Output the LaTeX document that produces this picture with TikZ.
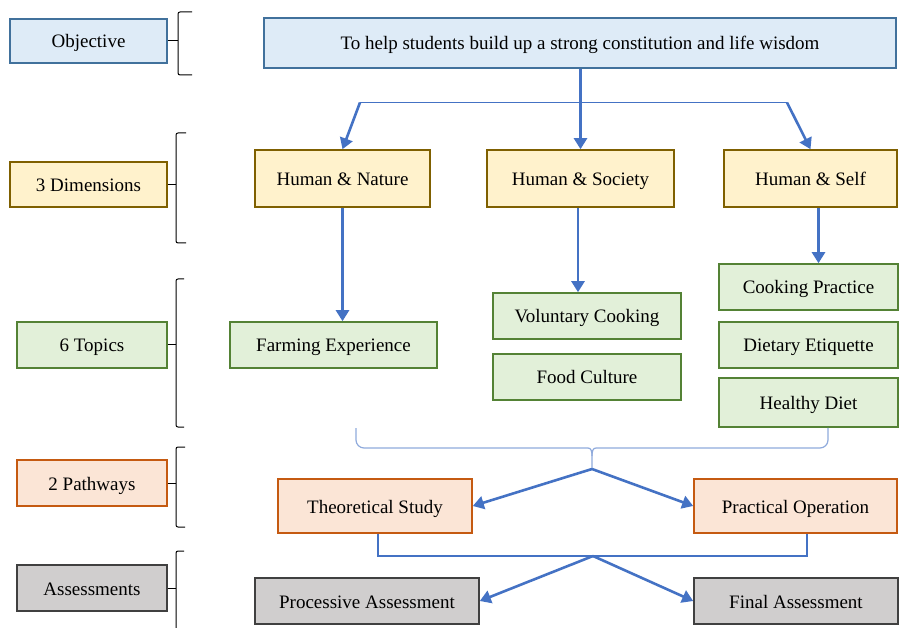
\documentclass[tikz,border=0pt]{standalone}
\usepackage{fontspec}
\setmainfont{Liberation Serif}
\usetikzlibrary{arrows.meta}
\definecolor{bfill}{HTML}{DEEBF7}\definecolor{bdraw}{HTML}{41719C}
\definecolor{yfill}{HTML}{FFF2CC}\definecolor{ydraw}{HTML}{7F6000}
\definecolor{gfill}{HTML}{E2F0D9}\definecolor{gdraw}{HTML}{548235}
\definecolor{ofill}{HTML}{FBE5D6}\definecolor{odraw}{HTML}{C55A11}
\definecolor{kfill}{HTML}{D0CECE}\definecolor{kdraw}{HTML}{404040}
\definecolor{arrc}{HTML}{4472C4}\definecolor{lightarr}{HTML}{8FAADC}
\tikzset{
  box/.style={draw, line width=1.6pt, inner sep=0pt, text height=15pt, text depth=1pt,
    font=\fontsize{19}{22}\selectfont, text=black},
  bluebox/.style={box, fill=bfill, draw=bdraw},
  yelbox/.style={box, fill=yfill, draw=ydraw},
  grnbox/.style={box, fill=gfill, draw=gdraw},
  orgbox/.style={box, fill=ofill, draw=odraw},
  grybox/.style={box, fill=kfill, draw=kdraw},
  arr/.style={draw=arrc, line width=2.6pt, -{Triangle[width=13pt,length=11pt]}},
  thinline/.style={draw=arrc, line width=1.2pt},
  lightline/.style={draw=lightarr, line width=1.2pt},
  brk/.style={draw=black, line width=1pt, rounded corners=2pt},
}
\begin{document}
\begin{tikzpicture}[x=1pt,y=-1pt]
\useasboundingbox (0,0) rectangle (900,628);
% left category boxes
\node[bluebox, minimum width=157, minimum height=44] (obj) at (88.5,41) {Objective};
\node[yelbox, minimum width=157, minimum height=45] (dim) at (88.5,184.5) {3 Dimensions};
\node[grnbox, minimum width=150, minimum height=46] (topics) at (92,345) {6 Topics};
\node[orgbox, minimum width=150, minimum height=46] (path) at (92,483) {2 Pathways};
\node[grybox, minimum width=150, minimum height=46] (ass) at (92,588) {Assessments};
% brackets
\draw[brk] (192,12) -- (178,12) -- (178,75) -- (192,75);
\draw[brk] (obj.east) -- (obj.east -| 178,0);
\draw[brk] (186,133) -- (176,133) -- (176,243) -- (186,243);
\draw[brk] (dim.east) -- (dim.east -| 176,0);
\draw[brk] (184,279) -- (176,279) -- (176,427) -- (184,427);
\draw[brk] (topics.east) -- (topics.east -| 176,0);
\draw[brk] (185,447) -- (176,447) -- (176,527) -- (185,527);
\draw[brk] (path.east) -- (path.east -| 176,0);
\draw[brk] (184,551) -- (176,551) -- (176,640);
\draw[brk] (ass.east) -- (ass.east -| 176,0);
% main boxes
\node[bluebox, minimum width=632, minimum height=50] (top) at (580,43) {To help students build up a strong constitution and life wisdom};
\node[yelbox, minimum width=175, minimum height=57] (hn) at (342.5,178.5) {Human \& Nature};
\node[yelbox, minimum width=187, minimum height=57] (hs) at (580.5,178.5) {Human \& Society};
\node[yelbox, minimum width=173, minimum height=57] (hself) at (810.5,178.5) {Human \& Self};
\node[grnbox, minimum width=207, minimum height=46] (farm) at (333.5,345) {Farming Experience};
\node[grnbox, minimum width=188, minimum height=46] (vc) at (587,316) {Voluntary Cooking};
\node[grnbox, minimum width=188, minimum height=46] (fc) at (587,377) {Food Culture};
\node[grnbox, minimum width=179, minimum height=46] (cp) at (808.5,287) {Cooking Practice};
\node[grnbox, minimum width=179, minimum height=46] (de) at (808.5,345) {Dietary Etiquette};
\node[grnbox, minimum width=179, minimum height=49] (hd) at (808.5,402.5) {Healthy Diet};
\node[orgbox, minimum width=194, minimum height=54] (ts) at (375,506) {Theoretical Study};
\node[orgbox, minimum width=203, minimum height=54] (po) at (795.5,506) {Practical Operation};
\node[grybox, minimum width=224, minimum height=46] (pa) at (367,601) {Processive Assessment};
\node[grybox, minimum width=204, minimum height=46] (fa) at (796,601) {Final Assessment};
% top branching
\coordinate (bl) at (360,102.5);
\coordinate (br) at (787,102.5);
\draw[thinline] (bl) -- (br);
\draw[arr] (hs.north |- top.south) -- (hs.north);
\draw[arr] (bl) -- (hn.north);
\draw[arr] (br) -- (hself.north);
% down arrows
\draw[arr] (hn.south) -- (hn.south |- farm.north);
\draw[arr] ([xshift=-2.5pt]hs.south) -- ([xshift=-2.5pt]hs.south |- vc.north);
\draw[arr] ([xshift=8pt]hself.south) -- ([xshift=8pt]hself.south |- cp.north);
% brace 1
\coordinate (bs1) at (356,428);
\coordinate (j1) at (592,469);
\draw[lightline, rounded corners=8pt] (bs1) -- (356,448) -- (588,448);
\draw[lightline] (588,448) .. controls (591,448) and (592,451) .. (592,456) -- (j1);
\draw[lightline] (596,448) .. controls (593,448) and (592,451) .. (592,456);
\draw[lightline, rounded corners=8pt] (596,448) -- (828,448) -- (hd.south -| 828,0);
\draw[arr] (j1) -- (ts.east);
\draw[arr] (j1) -- (po.west);
% bracket 2
\coordinate (j2) at (593,556);
\draw[thinline] (ts.south -| 378,0) -- (378,556) -- (807,556) -- (po.south -| 807,0);
\draw[arr] (j2) -- (pa.east);
\draw[arr] (j2) -- (fa.west);
\end{tikzpicture}
\end{document}
